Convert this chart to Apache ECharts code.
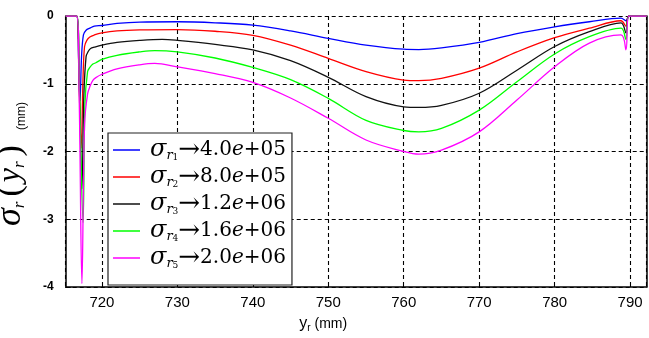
<!DOCTYPE html>
<html>
<head>
<meta charset="utf-8">
<script src="https://cdn.jsdelivr.net/npm/echarts@6/dist/echarts.min.js"></script>
<style>
  html, body { margin: 0; padding: 0; background: #fff; }
  #chart { width: 649px; height: 338px; }
</style>
</head>
<body>
<div id="chart"></div>
<script>
// Radial stress sigma_r(y_r) along y_r for five load levels.
// Each case: positions y_r (mm) and values (mm).
const yr1 = [715.2, 716.65, 716.9, 717.1, 717.3, 717.55, 717.9, 718.4, 719, 720, 722, 725, 730, 735, 740, 745, 750, 755, 760, 762, 765, 770, 775, 780, 784.6, 788.8, 789.45, 789.85, 792.2];
const sr1 = [0, 0, -0.6, -1.25, -0.6, -0.28, -0.21, -0.18, -0.15, -0.14, -0.11, -0.09, -0.085, -0.1, -0.135, -0.22, -0.33, -0.43, -0.49, -0.495, -0.47, -0.39, -0.26, -0.16, -0.085, -0.03, -0.07, 0, 0];

const yr2 = [715.2, 716.65, 716.95, 717.25, 717.5, 717.7, 718.0, 718.4, 719, 720, 722, 725, 730, 735, 740, 745, 750, 755, 760, 762, 765, 770, 775, 780, 784.6, 788.8, 789.45, 789.85, 792.2];
const sr2 = [0, 0, -0.9, -1.95, -0.9, -0.45, -0.36, -0.31, -0.28, -0.25, -0.22, -0.205, -0.2, -0.225, -0.285, -0.43, -0.625, -0.82, -0.945, -0.955, -0.92, -0.77, -0.53, -0.32, -0.18, -0.07, -0.15, 0, 0];

const yr3 = [715.2, 716.65, 717.0, 717.35, 717.6, 717.9, 718.2, 718.5, 719, 720, 722, 725, 728, 730, 735, 740, 745, 750, 755, 760, 762, 765, 770, 775, 780, 784.6, 788.8, 789.45, 789.85, 792.2];
const sr3 = [0, 0, -1.0, -2.55, -1.2, -0.6, -0.52, -0.48, -0.46, -0.43, -0.39, -0.36, -0.345, -0.36, -0.42, -0.5, -0.66, -0.905, -1.19, -1.34, -1.35, -1.32, -1.14, -0.8, -0.45, -0.23, -0.1, -0.25, 0, 0];

const yr4 = [715.2, 716.65, 717.0, 717.5, 717.75, 718.1, 718.4, 718.8, 719.2, 720, 722, 725, 727, 730, 735, 740, 745, 750, 755, 760, 762, 765, 770, 775, 780, 784.6, 788.8, 789.45, 789.85, 792.2];
const sr4 = [0, 0, -1.0, -3.05, -1.3, -0.82, -0.76, -0.71, -0.69, -0.64, -0.58, -0.53, -0.51, -0.53, -0.62, -0.76, -0.94, -1.216, -1.54, -1.69, -1.71, -1.66, -1.39, -0.97, -0.56, -0.305, -0.18, -0.35, 0, 0];

const yr5 = [715.2, 716.65, 717.0, 717.35, 717.7, 718.1, 718.45, 718.8, 719.2, 720, 722, 725, 727, 730, 735, 740, 745, 750, 755, 760, 762, 765, 770, 775, 780, 784.6, 788.8, 789.45, 789.85, 792.2];
const sr5 = [0, 0, -1.3, -3.95, -1.6, -1.15, -1.03, -0.95, -0.91, -0.86, -0.78, -0.72, -0.70, -0.75, -0.85, -0.98, -1.21, -1.51, -1.83, -2.0, -2.04, -1.98, -1.71, -1.24, -0.75, -0.40, -0.28, -0.5, 0, 0];

// Load level of each case, shown in the legend
const loadLabels = ['4.0e+05', '8.0e+05', '1.2e+06', '1.6e+06', '2.0e+06'];
const seriesNames = ['σr1', 'σr2', 'σr3', 'σr4', 'σr5'];
const lineColors = ['#0000ff', '#ff0000', '#111111', '#00ff00', '#ff00ff'];

const xs = [yr1, yr2, yr3, yr4, yr5];
const ys = [sr1, sr2, sr3, sr4, sr5];

const series = seriesNames.map((name, i) => ({
  name: name,
  type: 'line',
  symbol: 'none',
  smooth: 0.35,
  animation: false,
  lineStyle: { width: 1.3, color: lineColors[i] },
  itemStyle: { color: lineColors[i] },
  data: xs[i].map((x, k) => [x, ys[i][k]]),
  yAxisIndex: 0
}));

const gridDash = { type: [4, 3], color: '#000', width: 1.1 };

const chart = echarts.init(document.getElementById('chart'), null, { renderer: 'canvas' });
chart.setOption({
  backgroundColor: '#fff',
  animation: false,
  grid: { left: 65.7, right: 2.3, top: 16, bottom: 51, containLabel: false, outerBoundsMode: 'none' },
  xAxis: {
    type: 'value',
    min: 715.2,
    max: 792.2,
    splitNumber: 8,
    axisLine: { onZero: false, lineStyle: { color: '#000', width: 1.5 } },
    axisTick: { inside: true, length: 5, lineStyle: { color: '#000', width: 1 } },
    axisLabel: { showMinLabel: false, showMaxLabel: false, color: '#000', fontSize: 15, margin: 8, fontFamily: 'Liberation Sans' },
    splitLine: { show: true, lineStyle: gridDash },
    name: '{y|y}{sub|r}{u| (mm)}',
    nameLocation: 'middle',
    nameGap: 28,
    nameTextStyle: {
      padding: [0, 66, 0, 0],
      rich: {
        y: { fontSize: 16, fontFamily: 'Liberation Sans', color: '#000', lineHeight: 18 },
        sub: { fontSize: 10, fontFamily: 'Liberation Sans', color: '#000', lineHeight: 4, verticalAlign: 'bottom' },
        u: { fontSize: 14, fontFamily: 'Liberation Sans', color: '#000', lineHeight: 18 }
      }
    }
  },
  yAxis: [{
    type: 'value',
    min: -4,
    max: 0,
    interval: 1,
    axisLine: { show: true, onZero: false, lineStyle: { color: '#000', width: 1.5 } },
    axisTick: { show: true, inside: true, length: 5, lineStyle: { color: '#000', width: 1 } },
    axisLabel: { color: '#000', fontSize: 12, fontWeight: 'bold', margin: 12, fontFamily: 'Liberation Sans' },
    splitLine: { show: true, lineStyle: gridDash },
    name: '{s|σ}{sub|r}{p|(}{v|y}{sub|r}{p|)}{u|(mm)}',
    nameLocation: 'middle',
    nameRotate: 90,
    nameGap: 38,
    nameTextStyle: {
      padding: [0, 25, 0, 0],
      rich: {
        s: { fontSize: 36, fontFamily: 'Liberation Serif', fontStyle: 'italic', color: '#000', lineHeight: 34 },
        sub: { fontSize: 17, fontFamily: 'Liberation Serif', fontStyle: 'italic', color: '#000', lineHeight: 8, verticalAlign: 'bottom', padding: [0, 2, 0, 0] },
        p: { fontSize: 34, fontFamily: 'Liberation Serif', color: '#000', lineHeight: 34, padding: [0, 3, 0, 3] },
        v: { fontSize: 32, fontFamily: 'Liberation Serif', fontStyle: 'italic', color: '#000', lineHeight: 34 },
        u: { fontSize: 12, fontFamily: 'Liberation Sans', color: '#000', lineHeight: 16, verticalAlign: 'bottom', padding: [0, 0, 0, 12] }
      }
    }
  }, {
    type: 'value',
    position: 'right',
    min: -4,
    max: 0,
    interval: 1,
    axisLine: { show: true, onZero: false, lineStyle: { color: '#000', width: 1.5 } },
    axisTick: { show: false },
    axisLabel: { show: false },
    splitLine: { show: false }
  }],
  legend: {
    orient: 'vertical',
    left: 108,
    top: 133,
    padding: [4, 6, 14, 5],
    itemGap: 1,
    itemWidth: 27,
    itemHeight: 1.5,
    icon: 'rect',
    selectedMode: false,
    backgroundColor: '#fff',
    borderColor: '#222',
    borderWidth: 1.2,
    borderRadius: 0,
    data: seriesNames,
    formatter: (name) => {
      const i = seriesNames.indexOf(name);
      const parts = loadLabels[i].split('e');
      return '{sig|σ}{r|r}{d|' + (i + 1) + '}{arr|→}{num|' + parts[0] + '}{e|e}{num|' + parts[1] + '}';
    },
    textStyle: {
      rich: {
        sig: { fontSize: 24, fontFamily: 'DejaVu Serif', fontStyle: 'italic', color: '#000', lineHeight: 24, padding: [0, 0, 0, 5] },
        r: { fontSize: 13, fontFamily: 'DejaVu Serif', fontStyle: 'italic', color: '#000', lineHeight: 12, verticalAlign: 'bottom' },
        d: { fontSize: 9, fontFamily: 'DejaVu Serif', color: '#000', lineHeight: 2, verticalAlign: 'bottom' },
        arr: { fontSize: 26, fontFamily: 'DejaVu Serif', color: '#000', lineHeight: 24 },
        num: { fontSize: 20, fontFamily: 'DejaVu Serif', color: '#000', lineHeight: 24 },
        e: { fontSize: 20, fontFamily: 'DejaVu Serif', fontStyle: 'italic', color: '#000', lineHeight: 24 }
      }
    }
  },
  series: series
});
</script>
</body>
</html>
